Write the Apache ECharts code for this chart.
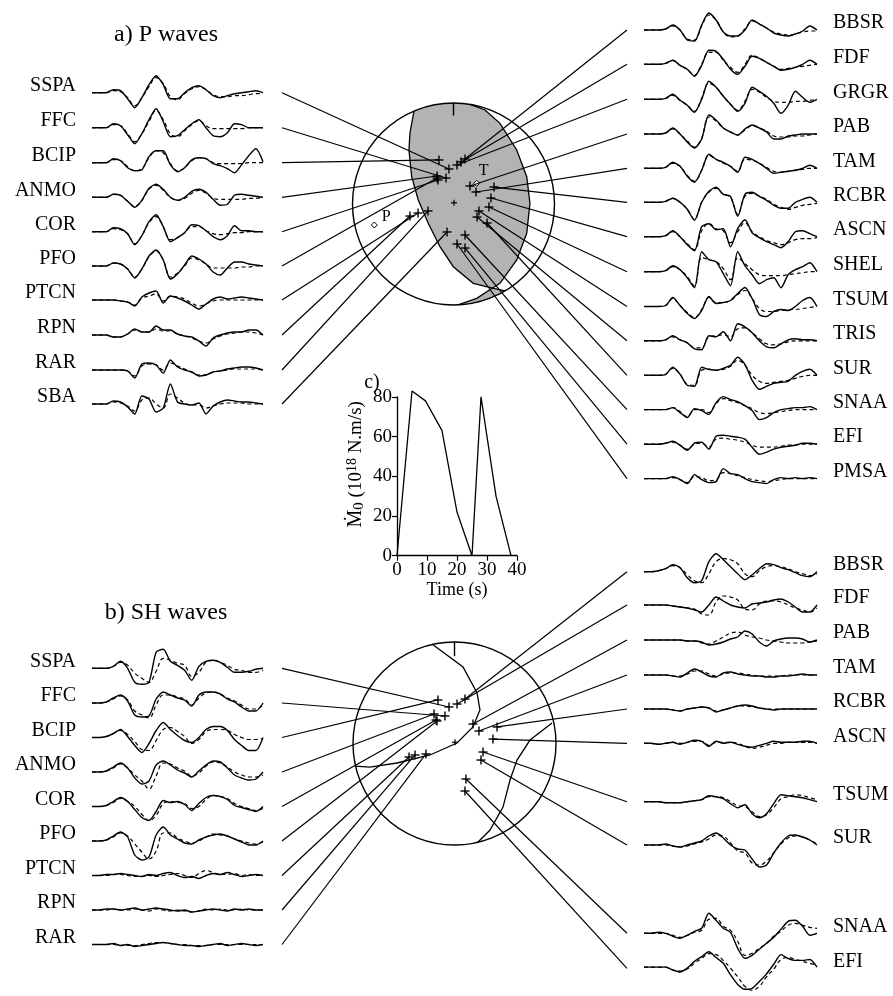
<!DOCTYPE html>
<html><head><meta charset="utf-8">
<script src="https://cdn.jsdelivr.net/npm/echarts@6.0.0/dist/echarts.min.js"></script>
<style>html,body{margin:0;padding:0;background:#fff}#c{width:893px;height:996px}</style>
</head><body><div id="c"></div>
<script>
// ---------------- DATA ----------------
const pLeftNames = ['SSPA','FFC','BCIP','ANMO','COR','PFO','PTCN','RPN','RAR','SBA'];
const pLeftObs = [
 [0,0,0,3,2,-6,-15,-5,8,17,8,-6,-6,0,5,7,3,-3,-5,-3,-1,0,1,2,0],
 [0,0,0,4,2,-7,-16,-6,8,19,6,-9,-8,-2,4,8,0,-8,-9,-5,4,3,0,0,0],
 [0,0,0,4,2,-5,-8,-7,6,12,12,-2,-9,-5,3,5,4,-1,-3,-6,-10,-2,7,14,1],
 [0,0,0,3,2,-4,-10,-3,9,13,8,0,-3,0,6,8,5,-2,-8,-7,2,3,2,1,0],
 [0,0,0,4,3,-2,-13,-4,10,17,5,-10,-6,-1,7,6,1,-5,-8,-4,6,1,1,0,0],
 [0,0,0,3,2,-3,-12,-3,10,16,6,-13,-8,1,10,7,2,-6,-9,-2,4,4,2,1,0],
 [0,0,0,0,-1,-2,-6,3,7,9,-3,4,2,-1,-5,-9,-4,1,3,1,2,3,2,1,0],
 [0,0,0,-2,-2,1,6,3,3,9,5,5,1,-1,-2,-6,-11,-3,0,2,3,3,5,5,0],
 [0,0,0,0,0,-1,-8,6,7,5,-3,10,3,0,-2,-6,-5,-2,-1,1,2,3,3,2,0],
 [0,0,0,3,2,-3,-10,8,5,-8,-4,20,2,0,-1,1,-10,-2,2,4,3,2,2,1,0]
];
const pLeftSyn = [
 [0,0,0,2,1,-5,-13,-5,6,15,9,-4,-7,-1,4,6,3,-2,-4,-4,-3,-3,-2,-1,-1],
 [0,0,0,3,2,-6,-14,-6,6,17,8,-6,-9,-3,3,7,2,-1,-1,-1,-1,-1,0,0,0],
 [0,0,0,3,2,-4,-8,-6,5,12,10,-1,-8,-5,2,5,4,0,-1,-1,-1,-1,0,0,0],
 [0,0,0,3,2,-4,-9,-3,8,12,7,0,-3,-1,4,7,4,-1,-2,-2,-2,-2,-1,-1,0],
 [0,0,0,3,2,-2,-12,-4,9,15,5,-8,-6,-1,5,5,1,-2,-3,-2,-1,-1,0,0,0],
 [0,0,0,3,2,-3,-11,-3,9,15,6,-11,-7,0,8,6,2,-2,-2,-2,-2,-1,-1,0,0],
 [0,0,0,0,-1,-2,-5,2,4,6,-1,4,3,1,-3,-6,-4,-1,0,0,0,0,0,0,0],
 [0,0,0,-2,-2,1,5,3,3,6,4,4,1,-1,-3,-6,-8,-4,-1,1,2,3,3,2,0],
 [0,0,0,0,0,-1,-6,4,6,5,0,7,4,1,-2,-5,-5,-2,-1,0,1,1,1,1,0],
 [0,0,0,2,1,-2,-7,4,6,0,-4,10,6,1,-1,-1,-4,-2,0,1,1,1,0,0,0]
];
const pRightNames = ['BBSR','FDF','GRGR','PAB','TAM','RCBR','ASCN','SHEL','TSUM','TRIS','SUR','SNAA','EFI','PMSA'];
const pRightObs = [
 [0,0,0,1,5,0,-10,-11,5,17,10,-2,-6,-6,0,10,6,2,-3,-5,-6,-4,-1,4,0],
 [0,0,0,1,4,-1,-5,-12,-1,14,13,5,-5,-10,-2,8,6,2,-2,-6,-5,-3,0,4,0],
 [0,0,0,1,5,-1,-6,-13,0,18,12,3,-5,-12,-4,12,8,3,-4,-14,-6,8,2,-3,0],
 [0,0,0,1,6,0,-8,-14,-5,19,14,6,2,-1,5,9,6,2,-5,-5,-2,-1,0,0,0],
 [0,0,0,1,6,2,-8,-14,-2,14,9,6,2,-4,11,9,5,0,-5,-4,-3,-2,0,3,0],
 [0,0,0,1,4,0,-7,-18,0,11,15,8,6,-14,8,10,6,2,-3,-6,-6,0,3,5,0],
 [0,0,0,1,6,0,-8,-14,10,13,7,8,-10,8,17,4,-1,-5,-8,-11,-5,5,6,3,0],
 [0,0,0,1,6,2,-6,-16,20,12,10,-2,-14,20,6,-3,-12,-8,-6,-16,-3,2,5,9,0],
 [0,0,0,1,9,1,-7,-12,-4,10,3,4,6,13,19,8,-8,-10,-5,-3,-4,0,6,9,0],
 [0,0,0,1,5,1,-2,-8,-9,5,4,9,0,17,14,8,0,-6,-7,-3,1,2,1,1,0],
 [0,0,0,1,8,1,-10,-11,8,6,5,7,10,18,11,-5,-14,-11,-8,-7,-6,0,4,6,0],
 [0,0,0,0,2,-3,-8,1,-1,-5,7,13,10,8,4,-1,-10,-8,-3,0,1,2,2,3,0],
 [0,0,0,1,3,-1,-6,1,2,-5,8,9,8,7,5,-3,-10,-8,-5,-3,-2,-1,1,1,0],
 [0,0,0,0,2,-1,-5,4,-1,-4,-3,10,5,4,0,-3,-4,-5,-1,1,0,1,0,1,0]
];
const pRightSyn = [
 [0,0,0,1,4,0,-9,-10,4,15,10,-2,-7,-6,1,9,6,2,-2,-4,-5,-4,-2,-1,-1],
 [0,0,0,1,4,-1,-5,-11,0,12,12,4,-3,-8,0,9,6,2,-2,-5,-4,-3,-2,-1,0],
 [0,0,0,1,4,-1,-6,-12,1,16,12,3,-5,-11,-2,10,7,2,-2,-3,-3,-2,-2,-1,0],
 [0,0,0,1,5,0,-7,-13,-4,17,13,6,2,-1,4,8,6,3,-2,-3,-3,-2,-2,-1,0],
 [0,0,0,1,5,2,-7,-13,-2,13,9,5,2,-3,9,8,5,1,-3,-4,-3,-2,-1,0,0],
 [0,0,0,1,4,0,-7,-17,0,10,14,8,5,-12,6,9,6,3,-2,-5,-7,-5,-3,-2,-1],
 [0,0,0,1,5,0,-7,-13,6,13,8,6,-6,5,14,5,0,-4,-6,-8,-6,-3,-2,-2,-1],
 [0,0,0,1,5,2,-5,-14,14,12,10,3,-8,14,8,2,-3,-4,-4,-4,-3,-2,-1,0,0],
 [0,0,0,1,8,1,-6,-11,-3,9,4,4,6,12,16,8,-2,-5,-5,-4,-3,-3,-2,-1,0],
 [0,0,0,1,4,1,-2,-7,-7,4,5,6,4,12,13,8,2,-3,-4,-3,-1,0,0,0,0],
 [0,0,0,1,7,1,-9,-10,5,6,5,6,9,15,10,0,-6,-8,-7,-6,-5,-3,-1,0,0],
 [0,0,0,0,2,-2,-7,0,0,-3,6,11,9,7,4,1,-3,-4,-3,-2,-1,0,0,0,0],
 [0,0,0,1,2,-1,-5,0,1,-3,5,6,5,4,2,-1,-3,-3,-3,-2,-1,-1,0,0,0],
 [0,0,0,0,1,-1,-4,2,1,-2,-1,6,5,3,1,-1,-2,-3,-2,-1,0,0,0,0,0]
];
const shLeftNames = ['SSPA','FFC','BCIP','ANMO','COR','PFO','PTCN','RPN','RAR'];
const shLeftObs = [
 [0,0,0,2,7,0,-14,-16,-14,16,19,7,3,-2,-12,2,7,8,6,1,-4,-4,-3,-1,0],
 [0,0,1,5,8,2,-12,-14,-13,4,11,8,5,3,-3,8,11,11,9,4,1,-4,-8,-8,0],
 [0,0,1,4,8,1,-8,-15,-6,7,15,8,2,-3,-5,0,8,11,11,7,-2,-8,-13,-13,0],
 [0,0,1,5,9,4,-6,-12,-9,7,11,7,2,-1,-5,1,7,11,10,4,-3,-6,-8,-7,0],
 [0,0,1,5,9,5,-3,-11,-14,-5,6,4,5,2,-4,3,9,11,10,7,1,-1,-3,-5,0],
 [0,0,1,5,9,4,-14,-19,-16,6,14,6,2,-2,-3,1,4,6,7,5,2,-1,-4,-4,0],
 [0,0,1,1,2,1,0,-1,1,0,2,3,0,-2,-1,-3,0,2,1,3,1,-1,0,1,0],
 [0,0,1,1,0,1,2,0,1,2,1,0,-1,0,-2,-1,0,1,0,-1,1,0,1,0,0],
 [0,0,0,1,-1,0,-2,-1,0,1,2,1,0,-1,-1,-2,-1,0,1,-1,0,1,0,-1,0]
];
const shLeftSyn = [
 [0,0,0,2,6,3,-5,-10,-14,-3,10,8,5,3,-8,-4,6,8,6,3,-1,-2,-4,-4,-2],
 [0,0,1,4,7,3,-8,-12,-15,-2,8,8,6,4,-2,5,10,11,9,5,2,-2,-6,-6,-2],
 [0,0,1,4,7,3,-4,-12,-13,-3,8,10,6,1,-6,-2,6,8,8,7,3,0,-2,-2,-1],
 [0,0,1,4,8,4,-3,-9,-17,-4,9,8,4,1,-4,-1,6,10,9,5,0,-3,-5,-5,-3],
 [0,0,1,4,8,5,0,-8,-14,-9,3,5,4,3,-2,0,7,11,10,8,3,0,-2,-4,-2],
 [0,0,1,4,8,5,-3,-11,-18,-10,8,8,3,0,-2,0,4,7,6,5,2,0,-2,-3,-1],
 [0,0,0,1,1,0,-1,-1,0,-1,0,1,2,0,-2,2,5,3,1,1,2,0,1,0,0],
 [0,0,0,1,0,0,1,0,-1,1,0,-1,0,-1,-2,-1,1,0,1,0,0,1,0,0,0],
 [0,0,0,0,-1,-1,-1,0,1,2,2,1,0,0,-1,-1,-1,0,0,0,0,0,0,0,0]
];
const shRightNames = ['BBSR','FDF','PAB','TAM','RCBR','ASCN','TSUM','SUR','SNAA','EFI'];
const shRightObs = [
 [0,0,1,3,7,4,-6,-11,-9,10,18,12,5,-2,-8,-3,3,8,7,4,2,-1,-4,-5,0],
 [0,0,0,0,-1,-2,-3,-5,-7,0,8,4,0,-2,-3,1,2,3,5,6,3,-2,-7,-7,0],
 [0,0,0,0,0,0,-1,-1,-2,-5,-4,-2,1,3,9,6,-2,-6,-1,1,2,2,1,-2,0],
 [0,0,0,0,-1,-2,2,6,3,-1,-2,2,3,1,0,-1,-1,-2,-2,-1,-1,0,1,0,0],
 [0,0,0,0,-1,-2,0,1,2,1,-3,-1,1,3,4,3,1,0,-1,0,0,0,0,0,0],
 [0,0,-1,0,1,-1,1,3,2,-3,2,0,1,-1,-3,-4,-2,0,2,1,1,1,2,2,0],
 [0,0,0,-1,-1,-1,0,1,2,6,5,3,-2,-6,-3,-12,-16,-12,-2,7,6,5,4,2,0],
 [0,0,0,1,-1,-2,0,2,4,9,12,7,0,-4,-5,-14,-22,-20,-8,2,9,10,8,5,0],
 [0,0,1,0,-3,-5,-2,2,5,20,13,5,1,-15,-25,-22,-16,-10,-4,4,12,13,7,-2,0],
 [0,0,0,0,-3,-5,-1,6,11,16,10,4,-8,-18,-23,-22,-15,-7,3,13,9,7,7,8,0]
];
const shRightSyn = [
 [0,0,1,3,6,4,-3,-9,-11,-2,10,13,12,8,-2,-5,1,5,6,5,3,0,-2,-4,-2],
 [0,0,0,0,-1,-2,-3,-4,-9,-10,3,9,8,5,-4,-5,1,4,4,3,0,-3,-5,-7,-3],
 [0,0,0,0,0,0,-1,-1,-3,-4,-1,3,7,8,5,3,2,0,-1,-2,-3,-3,-3,-2,-1],
 [0,0,0,0,-1,-1,1,4,4,1,-1,1,2,2,1,0,-1,-1,-1,-1,0,0,0,0,0],
 [0,0,0,0,-1,-2,0,1,2,1,-2,-1,1,3,3,2,1,0,0,0,0,0,0,0,0],
 [0,0,-1,0,1,0,1,2,2,-2,1,1,1,0,-3,-5,-4,-2,0,0,1,1,1,1,0],
 [0,0,0,-1,-1,-1,0,1,2,5,5,4,0,-4,-5,-10,-15,-13,-6,3,5,7,6,4,2],
 [0,0,0,0,-1,-2,-1,1,3,6,10,9,2,-6,-8,-18,-20,-16,-8,1,7,9,8,5,1],
 [0,0,0,0,-2,-4,-2,1,3,14,15,7,3,-8,-22,-20,-15,-10,-3,2,8,10,8,6,5],
 [0,0,0,0,-3,-4,-2,4,9,14,13,7,-1,-10,-20,-24,-20,-10,-2,8,10,8,6,4,2]
];
// station positions on the focal spheres (projected, unit radius)
const pLeftSta  = [[-0.045,0.347],[-0.074,0.257],[-0.144,0.436],[-0.163,0.277],[-0.153,0.238],[-0.163,0.257],[-0.351,-0.089],[-0.431,-0.119],[-0.252,-0.069],[-0.064,-0.277]];
const pRightSta = [[0.114,0.446],[0.074,0.416],[0.035,0.386],[0.163,0.178],[0.223,0.119],[0.401,0.168],[0.371,0.059],[0.351,-0.030],[0.252,-0.069],[0.233,-0.129],[0.332,-0.188],[0.114,-0.307],[0.114,-0.436],[0.035,-0.396]];
const shLeftSta  = [[-0.054,0.360],[-0.094,0.271],[-0.163,0.429],[-0.202,0.291],[-0.182,0.232],[-0.172,0.222],[-0.448,-0.133],[-0.389,-0.113],[-0.281,-0.103]];
const shRightSta = [[0.103,0.438],[0.025,0.389],[0.182,0.192],[0.241,0.123],[0.419,0.163],[0.379,0.044],[0.281,-0.084],[0.261,-0.163],[0.113,-0.350],[0.103,-0.468]];
// nodal planes (unit radius)
const pPlaneA = [[-0.391,0.921],[-0.431,0.703],[-0.441,0.535],[-0.414,0.270],[-0.349,0.040],[-0.250,-0.191],[-0.134,-0.423],[-0.002,-0.621],[0.196,-0.785],[0.386,-0.832],[0.510,-0.861]];
const pPlaneB = [[0.163,0.986],[0.312,0.931],[0.460,0.799],[0.626,0.535],[0.725,0.270],[0.757,0.007],[0.725,-0.290],[0.626,-0.554],[0.460,-0.785],[0.386,-0.832],[0.230,-0.934],[0.045,-0.999]];
const shPlaneA = [[-0.222,0.980],[0.084,0.754],[0.222,0.498],[0.251,0.330],[0.182,0.163],[0.025,0.005],[-0.241,-0.113],[-0.567,-0.192],[-0.833,-0.232],[-0.980,-0.222]];
const shPlaneB = [[0.961,0.202],[0.744,0.034],[0.616,-0.163],[0.547,-0.360],[0.478,-0.626],[0.350,-0.852],[0.222,-0.980]];
const pAxisT = [0.230,0.205];
const pAxisP = [-0.784,-0.208];
const epicenter = [0.005,0.012];
// source time function
const stfTime  = [0, 5, 9.5, 15, 20, 25, 28, 33, 38];
const stfValue = [0, 83, 78, 63, 22, 0, 80, 30, 0];
const stfXTicks = [0,10,20,30,40];

// ---------------- LAYOUT ----------------
const FONT = '"Liberation Serif","Times New Roman",serif';
const LBL = 20;
const L_X0 = 92, L_W = 171, R_X0 = 644, R_W = 173;
const L_ANCHOR = 282, R_ANCHOR = 627;
const pLeftBase  = [92.7,127.7,162.7,197.3,231.7,266,300,335,370,404];
const pRightBase = [30,64.3,99.3,134,168.3,202.3,236.7,271.7,306.5,340.8,375.3,409.6,444.2,478.6];
const shLeftBase  = [668.3,703,737.5,772,806.5,841,875.5,910,944.5];
const shRightBase = [571.7,605,640,675,709,743.3,801.7,845,933.3,968.3];
const P_BALL = {cx:453.5, cy:204, r:101};
const SH_BALL = {cx:454.5, cy:743.5, r:101.5};

const grids=[], xAxes=[], yAxes=[], series=[], graphics=[];
function addGrid(g, xa, ya){ const i=grids.length; grids.push(g); xAxes.push(Object.assign({gridIndex:i},xa)); yAxes.push(Object.assign({gridIndex:i},ya)); return i; }

function addTraces(names, obs, syn, x0, w, bases, side){
  names.forEach((nm,i)=>{
    const gi = addGrid({left:x0, top:bases[i]-30, width:w, height:60},
      {type:'value', min:0, max:obs[i].length-1, show:false},
      {type:'value', min:-30, max:30, show:false});
    series.push({type:'line', xAxisIndex:gi, yAxisIndex:gi, data:syn[i].map((v,k)=>[k,v]), showSymbol:false, smooth:0.4, clip:false, silent:true,
      lineStyle:{color:'#000', width:1.2, type:[4,3]}});
    series.push({type:'line', xAxisIndex:gi, yAxisIndex:gi, data:obs[i].map((v,k)=>[k,v]), showSymbol:false, smooth:0.25, clip:false, silent:true,
      lineStyle:{color:'#000', width:1.4}});
    graphics.push({type:'text', x: side==='left'? 76 : 833, y: bases[i]-7, silent:true,
      style:{text:nm, font: LBL+'px '+FONT, fill:'#000', textAlign: side==='left'?'right':'left', textVerticalAlign:'middle'}});
  });
}
addTraces(pLeftNames, pLeftObs, pLeftSyn, L_X0, L_W, pLeftBase, 'left');
addTraces(pRightNames, pRightObs, pRightSyn, R_X0, R_W, pRightBase, 'right');
addTraces(shLeftNames, shLeftObs, shLeftSyn, L_X0, L_W, shLeftBase, 'left');
addTraces(shRightNames, shRightObs, shRightSyn, R_X0, R_W, shRightBase, 'right');

function arcPts(api, a0, a1){ const pts=[]; const n=24; for(let k=0;k<=n;k++){ const a=a0+(a1-a0)*k/n; pts.push(api.coord([Math.cos(a),Math.sin(a)])); } return pts; }
const ang = p => Math.atan2(p[1],p[0]);

function addBall(ball, planeA, planeB, shaded, tickLen, stations, anchors, extra){
  const gi = addGrid({left:ball.cx-ball.r, top:ball.cy-ball.r, width:2*ball.r, height:2*ball.r},
    {type:'value', min:-1, max:1, show:false}, {type:'value', min:-1, max:1, show:false});
  series.push({type:'custom', xAxisIndex:gi, yAxisIndex:gi, data:[[0,0]], silent:true, clip:false, z:2,
    renderItem:(params, api)=>{
      const c = api.coord([0,0]); const r = api.coord([1,0])[0]-c[0];
      const ch = [];
      const A = planeA.map(p=>api.coord(p)), B = planeB.map(p=>api.coord(p));
      if (shaded){
        const ix = 9;
        const main = A.slice(0,ix+1).concat(B.slice(0,ix).reverse()).concat(arcPts(api, ang(planeB[0]), ang(planeA[0])));
        ch.push({type:'polygon', shape:{points:main}, style:{fill:'#b3b3b3', stroke:null}});
        const sl = B.slice(ix).concat(arcPts(api, ang(planeB[planeB.length-1]), ang(planeA[planeA.length-1]))).concat([A[ix]]);
        ch.push({type:'polygon', shape:{points:sl}, style:{fill:'#b3b3b3', stroke:null}});
      }
      ch.push({type:'circle', shape:{cx:c[0], cy:c[1], r:r}, style:{fill:null, stroke:'#000', lineWidth:1.4}});
      ch.push({type:'polyline', shape:{points:A}, style:{fill:null, stroke:'#000', lineWidth:1.3}});
      ch.push({type:'polyline', shape:{points:B}, style:{fill:null, stroke:'#000', lineWidth:1.3}});
      const t0 = api.coord([0,1]), t1 = api.coord([0,1-tickLen]);
      ch.push({type:'line', shape:{x1:t0[0],y1:t0[1],x2:t1[0],y2:t1[1]}, style:{stroke:'#000', lineWidth:1.4}});
      const e = api.coord(epicenter);
      ch.push({type:'line', shape:{x1:e[0]-3,y1:e[1],x2:e[0]+3,y2:e[1]}, style:{stroke:'#000', lineWidth:1.2}});
      ch.push({type:'line', shape:{x1:e[0],y1:e[1]-3,x2:e[0],y2:e[1]+3}, style:{stroke:'#000', lineWidth:1.2}});
      if (extra){
        extra.forEach(m=>{ const q = api.coord(m.p);
          ch.push({type:'polygon', shape:{points:[[q[0],q[1]-3],[q[0]+3,q[1]],[q[0],q[1]+3],[q[0]-3,q[1]]]}, style:{fill:'#fff', stroke:'#000', lineWidth:1}});
          ch.push({type:'text', x:q[0]+m.dx, y:q[1]+m.dy, style:{text:m.t, font:'16px '+FONT, fill:'#000', textAlign:'center', textVerticalAlign:'middle'}});
        });
      }
      return {type:'group', children:ch};
    }});
  series.push({type:'custom', xAxisIndex:gi, yAxisIndex:gi, data:stations, silent:true, clip:false, z:3,
    renderItem:(params, api)=>{
      const p = api.coord([api.value(0), api.value(1)]);
      const a = anchors[params.dataIndex];
      const s = 4.5;
      return {type:'group', children:[
        {type:'line', shape:{x1:a[0],y1:a[1],x2:p[0],y2:p[1]}, style:{stroke:'#000', lineWidth:1.2}},
        {type:'line', shape:{x1:p[0]-s,y1:p[1],x2:p[0]+s,y2:p[1]}, style:{stroke:'#000', lineWidth:1.4}},
        {type:'line', shape:{x1:p[0],y1:p[1]-s,x2:p[0],y2:p[1]+s}, style:{stroke:'#000', lineWidth:1.4}}
      ]};
    }});
}
const pStations = pLeftSta.concat(pRightSta);
const pAnchors = pLeftBase.map(y=>[L_ANCHOR,y]).concat(pRightBase.map(y=>[R_ANCHOR,y]));
addBall(P_BALL, pPlaneA, pPlaneB, true, 0.125, pStations, pAnchors,
  [{p:pAxisT, t:'T', dx:7, dy:-12}, {p:pAxisP, t:'P', dx:12, dy:-8}]);
const shStations = shLeftSta.concat(shRightSta);
const shAnchors = shLeftBase.map(y=>[L_ANCHOR,y]).concat(shRightBase.map(y=>[R_ANCHOR,y]));
addBall(SH_BALL, shPlaneA, shPlaneB, false, 0.14, shStations, shAnchors, null);

// source time function inset
const yPx = 1.985;
const stfGi = addGrid({left:397, top:555.7-80*yPx, width:120, height:80*yPx},
  {type:'value', min:0, max:40, interval:10, axisLine:{show:true, onZero:false, lineStyle:{color:'#000', width:1.3}},
   axisTick:{show:true, length:5, lineStyle:{color:'#000', width:1.2}}, splitLine:{show:false},
   axisLabel:{color:'#000', fontFamily:FONT, fontSize:19, margin:5, formatter:v=> stfXTicks.indexOf(v)>=0? String(v):''},
   name:'Time (s)', nameLocation:'middle', nameGap:26, nameTextStyle:{color:'#000', fontFamily:FONT, fontSize:18}},
  {type:'value', min:0, max:80, interval:20, axisLine:{show:true, onZero:false, lineStyle:{color:'#000', width:1.3}},
   axisTick:{show:true, length:5, lineStyle:{color:'#000', width:1.2}}, splitLine:{show:false},
   axisLabel:{color:'#000', fontFamily:FONT, fontSize:19, margin:5},
   name:'{m|Ṁ}{s|0} (10{u|18} N.m/s)', nameLocation:'middle', nameGap:30, nameRotate:90,
   nameTextStyle:{color:'#000', fontFamily:FONT, fontSize:19, padding:[0,0,0,24], rich:{
     m:{fontFamily:FONT, fontSize:20, color:'#000'}, s:{fontFamily:FONT, fontSize:15, color:'#000', verticalAlign:'bottom', lineHeight:22},
     u:{fontFamily:FONT, fontSize:14, color:'#000', verticalAlign:'top', lineHeight:22}}}});
series.push({type:'line', xAxisIndex:stfGi, yAxisIndex:stfGi, data:stfTime.map((t,i)=>[t,stfValue[i]]), showSymbol:false, clip:false, silent:true,
  lineStyle:{color:'#000', width:1.3}});

graphics.push({type:'text', x:166, y:35, style:{text:'a) P waves', font:'24px '+FONT, fill:'#000', textAlign:'center', textVerticalAlign:'middle'}});
graphics.push({type:'text', x:166, y:613, style:{text:'b) SH waves', font:'24px '+FONT, fill:'#000', textAlign:'center', textVerticalAlign:'middle'}});
graphics.push({type:'text', x:372, y:383, style:{text:'c)', font:'20px '+FONT, fill:'#000', textAlign:'center', textVerticalAlign:'middle'}});

const chart = echarts.init(document.getElementById('c'), null, {renderer:'canvas', width:893, height:996});
chart.setOption({animation:false, backgroundColor:'#fff', grid:grids, xAxis:xAxes, yAxis:yAxes, series:series, graphic:graphics});
</script></body></html>
